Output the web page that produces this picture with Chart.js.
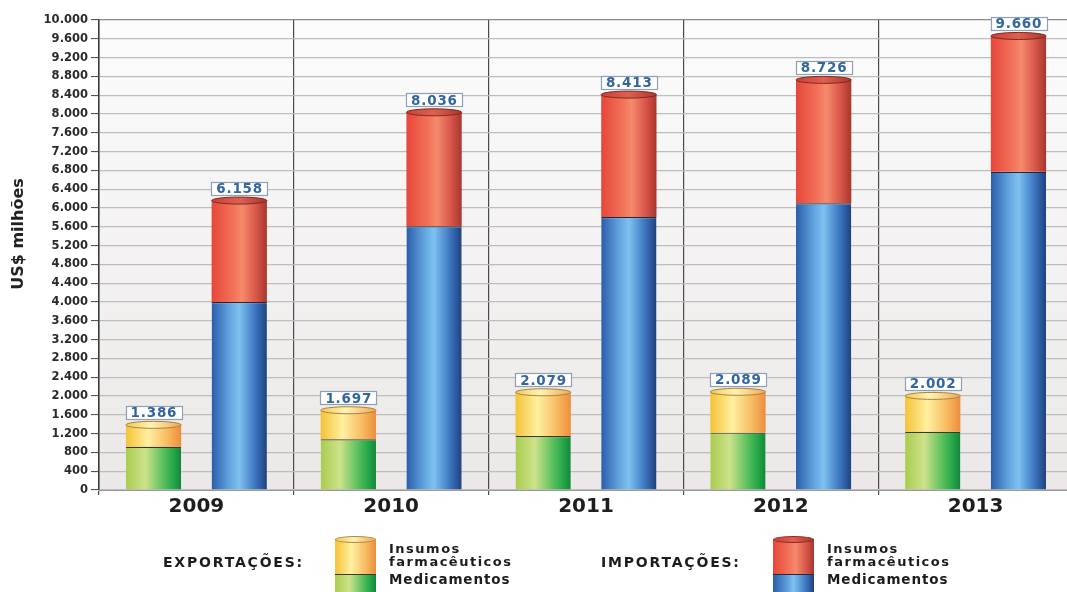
<!DOCTYPE html>
<html><head><meta charset="utf-8">
<script src="https://cdn.jsdelivr.net/npm/chart.js@4.4.1/dist/chart.umd.min.js"></script>
<style>
html,body{margin:0;padding:0;background:#fff;width:1067px;height:592px;overflow:hidden;}
#wrap{position:relative;width:1067px;height:592px;overflow:hidden;background:#fff;}
#c{position:absolute;left:0;top:0;}
.lg{position:absolute;font-family:"DejaVu Sans",sans-serif;font-weight:bold;color:#1c1c1c;white-space:nowrap;}
.icon{position:absolute;width:41px;height:70px;}
.seg{position:absolute;left:0;width:100%;box-sizing:border-box;}
.cap{position:absolute;left:0;width:100%;height:7px;top:-3px;border-radius:50%;box-sizing:border-box;}
</style></head><body>
<div id="wrap">
<canvas id="c" width="1073" height="592"></canvas>

<div class="lg" style="left:163px;top:554px;font-size:14px;letter-spacing:1.8px;">EXPORTAÇÕES:</div>
<div class="icon" style="left:335px;top:539px;">
  <div class="seg" style="top:35px;height:40px;background:linear-gradient(90deg,#a9cc4f 0%,#cde28a 35%,#52bd5a 70%,#20a347 88%,#16853a 100%);border-top:1px solid #3d3a1a;"></div>
  <div class="seg" style="top:0;height:35px;background:linear-gradient(90deg,#f5c236 0%,#fff0a0 40%,#f8bb62 75%,#ec8d3c 100%);"></div>
  <div class="cap" style="background:linear-gradient(90deg,#f2c85a,#fff3b5 45%,#f0a658);border:1px solid #b08a3a;"></div>
</div>
<div class="lg" style="left:389px;top:542px;font-size:13px;line-height:13px;letter-spacing:1.5px;">Insumos<br>farmacêuticos</div>
<div class="lg" style="left:389px;top:571px;font-size:13.5px;letter-spacing:0.9px;">Medicamentos</div>

<div class="lg" style="left:601px;top:554px;font-size:14px;letter-spacing:1.8px;">IMPORTAÇÕES:</div>
<div class="icon" style="left:773px;top:539px;">
  <div class="seg" style="top:35px;height:40px;background:linear-gradient(90deg,#2b5daa 0%,#5e9fdc 35%,#7ec2f0 50%,#3d78c2 80%,#1f417f 100%);border-top:1px solid #2a2a3a;"></div>
  <div class="seg" style="top:0;height:35px;background:linear-gradient(90deg,#e6473a 0%,#f2735a 40%,#f58a6c 55%,#d9574a 80%,#a8362d 100%);"></div>
  <div class="cap" style="background:linear-gradient(90deg,#c8413a,#e0604f 50%,#a8362d);border:1px solid #8a2e26;"></div>
</div>
<div class="lg" style="left:827px;top:542px;font-size:13px;line-height:13px;letter-spacing:1.5px;">Insumos<br>farmacêuticos</div>
<div class="lg" style="left:827px;top:571px;font-size:13.5px;letter-spacing:0.9px;">Medicamentos</div>
</div>

<script>
// ---- data (US$ milhões) ----
const categories = ['2009', '2010', '2011', '2012', '2013'];
const exportMedicamentos = [920, 1080, 1150, 1220, 1240];
const exportInsumos      = [466, 617, 929, 869, 762];
const importMedicamentos = [4000, 5610, 5810, 6100, 6770];
const importInsumos      = [2158, 2426, 2603, 2626, 2890];
const yMin = 0, yMax = 10000, yStep = 400;
const yTitle = 'US$ milhões';

function fmt(v) { return String(Math.round(v)).replace(/\B(?=(\d{3})+(?!\d))/g, '.'); }

const GREEN  = [[0,'#a9cc4f'],[0.35,'#cde28a'],[0.7,'#52bd5a'],[0.88,'#20a347'],[1,'#16853a']];
const YELLOW = [[0,'#f5c236'],[0.4,'#fff0a0'],[0.75,'#f8bb62'],[1,'#ec8d3c']];
const BLUE   = [[0,'#2b5daa'],[0.3,'#5e9fdc'],[0.5,'#7ec2f0'],[0.78,'#3d78c2'],[1,'#1f417f']];
const RED    = [[0,'#e6473a'],[0.4,'#f2735a'],[0.55,'#f58a6c'],[0.8,'#d9574a'],[1,'#a8362d']];

function grad(c, el, stops) {
  const g = c.createLinearGradient(el.x - el.width / 2, 0, el.x + el.width / 2, 0);
  stops.forEach(s => g.addColorStop(s[0], s[1]));
  return g;
}
function cyl(stops, fallback) {
  return (ctx) => {
    const el = ctx.element;
    if (!el || !isFinite(el.x) || !el.width) return fallback;
    return grad(ctx.chart.ctx, el, stops);
  };
}

const bgPlugin = {
  id: 'bg',
  beforeDraw(chart) {
    const {ctx, chartArea: a} = chart;
    const g = ctx.createLinearGradient(0, a.top, 0, a.bottom);
    g.addColorStop(0, '#fcfcfc');
    g.addColorStop(1, '#ebe8e7');
    ctx.save();
    ctx.fillStyle = g;
    ctx.fillRect(a.left, a.top, a.right - a.left, a.bottom - a.top);
    ctx.restore();
  }
};

const capPlugin = {
  id: 'caps',
  afterDatasetsDraw(chart) {
    const ctx = chart.ctx;
    const caps = [
      {ds: 1, stops: [[0,'#f2c85a'],[0.45,'#fff3b5'],[1,'#f0a658']], stroke: '#a8843a'},
      {ds: 3, stops: [[0,'#c8413a'],[0.5,'#e0604f'],[1,'#a8362d']], stroke: '#7d2a22'}
    ];
    ctx.save();
    caps.forEach(cp => {
      chart.getDatasetMeta(cp.ds).data.forEach(el => {
        ctx.beginPath();
        ctx.ellipse(el.x, el.y, el.width / 2, 3.5, 0, 0, Math.PI * 2);
        ctx.fillStyle = grad(ctx, el, cp.stops);
        ctx.fill();
        ctx.lineWidth = 1;
        ctx.strokeStyle = cp.stroke;
        ctx.stroke();
      });
    });
    // totals labels
    ctx.font = 'bold 13.5px "DejaVu Sans"';
    if ('letterSpacing' in ctx) ctx.letterSpacing = '0.8px';
    ctx.textAlign = 'center';
    ctx.textBaseline = 'middle';
    [[0, 1], [2, 3]].forEach(([a, b]) => {
      const topMeta = chart.getDatasetMeta(b);
      topMeta.data.forEach((el, i) => {
        const total = chart.data.datasets[a].data[i] + chart.data.datasets[b].data[i];
        const t = fmt(total);
        const w = ctx.measureText(t).width + 10;
        const h = 14;
        const x = el.x - w / 2 + 0.5, y = el.y - 5 - h;
        ctx.fillStyle = '#ffffff';
        ctx.fillRect(Math.round(x), Math.round(y), Math.round(w), h);
        ctx.strokeStyle = '#8c9fb4';
        ctx.lineWidth = 1.2;
        ctx.strokeRect(Math.round(x) + 0.5, Math.round(y) + 0.5, Math.round(w) - 1, h - 1);
        ctx.fillStyle = '#33669f';
        ctx.fillText(t, el.x + 0.4, y + h / 2 + 1);
      });
    });
    ctx.restore();
  }
};

const titlePlugin = {
  id: 'ytitle',
  afterDraw(chart) {
    const ctx = chart.ctx;
    ctx.save();
    ctx.translate(19, 234);
    ctx.rotate(-Math.PI / 2);
    ctx.font = 'bold 16px "DejaVu Sans"';
    ctx.fillStyle = '#222';
    ctx.textAlign = 'center';
    ctx.textBaseline = 'middle';
    ctx.fillText(yTitle, 0, 0);
    ctx.restore();
  }
};

const barCommon = {
  categoryPercentage: 0.88,
  barPercentage: 0.645,
  borderSkipped: 'bottom',
};

const chart = new Chart(document.getElementById('c'), {
  type: 'bar',
  data: {
    labels: categories,
    datasets: [
      Object.assign({label: 'Exportações - Medicamentos', data: exportMedicamentos, stack: 'exp',
        backgroundColor: cyl(GREEN, '#52bd5a'), borderColor: '#3a3a22', borderWidth: {top: 1.2, left: 0, right: 0, bottom: 0}}, barCommon),
      Object.assign({label: 'Exportações - Insumos farmacêuticos', data: exportInsumos, stack: 'exp',
        backgroundColor: cyl(YELLOW, '#f8bb62'), borderWidth: 0}, barCommon),
      Object.assign({label: 'Importações - Medicamentos', data: importMedicamentos, stack: 'imp',
        backgroundColor: cyl(BLUE, '#3d78c2'), borderColor: '#22283a', borderWidth: {top: 1.2, left: 0, right: 0, bottom: 0}}, barCommon),
      Object.assign({label: 'Importações - Insumos farmacêuticos', data: importInsumos, stack: 'imp',
        backgroundColor: cyl(RED, '#e6473a'), borderWidth: 0}, barCommon)
    ]
  },
  options: {
    responsive: false,
    animation: false,
    devicePixelRatio: 1,
    layout: {padding: {top: 20, bottom: 72, left: 0, right: 0}},
    plugins: {legend: {display: false}, tooltip: {enabled: false}},
    scales: {
      x: {
        stacked: true,
        afterFit(s) { s.height = 30; },
        grid: {offset: true, color: '#4a4a4a', lineWidth: 1.2, tickLength: 5, tickColor: '#4a4a4a'},
        border: {display: true, color: '#9a9a9a'},
        ticks: {font: {family: 'DejaVu Sans', weight: 'bold', size: 20}, color: '#1e1e1e', padding: 0}
      },
      y: {
        stacked: true,
        min: yMin, max: yMax,
        afterFit(s) { s.width = 99; },
        grid: {
          color: (c) => (c.tick && c.tick.value === yMax) ? '#8a8a8a' : '#bdbdbd',
          lineWidth: 1.2, tickLength: 8, tickColor: '#444', tickWidth: 1
        },
        border: {display: true, color: '#3a3a3a', width: 1.5},
        ticks: {
          stepSize: yStep, autoSkip: false, padding: 3,
          font: {family: 'DejaVu Sans', weight: 'bold', size: 11.5}, color: '#2a2a2a',
          callback: (v) => fmt(v)
        }
      }
    }
  },
  plugins: [bgPlugin, capPlugin, titlePlugin]
});
chart.update();
</script>
</body></html>
